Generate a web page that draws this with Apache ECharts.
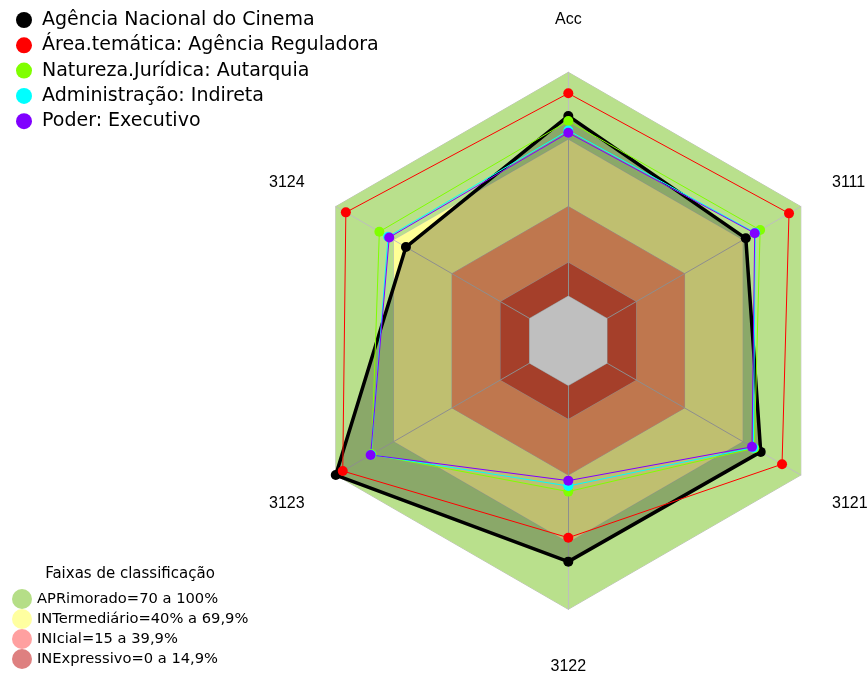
<!DOCTYPE html>
<html>
<head>
<meta charset="utf-8">
<script src="https://cdn.jsdelivr.net/npm/echarts@6/dist/echarts.min.js"></script>
<style>
html, body { margin: 0; padding: 0; background: #fff; }
#container { width: 868px; height: 673px; }
</style>
</head>
<body>
<div id="container"></div>
<script>
// eixos na ordem em que aparecem (anti-horario a partir do topo)
var indicadores = ['Acc', '3124', '3123', '3122', '3121', '3111'];

var nomesSeries = [
    'Agência Nacional do Cinema',
    'Área.temática: Agência Reguladora',
    'Natureza.Jurídica: Autarquia',
    'Administração: Indireta',
    'Poder: Executivo'
];
var coresSeries = ['#000000', '#FF0000', '#80FF00', '#00FFFF', '#8000FF'];

var agencia = [80.5, 63.8, 100, 78.7, 79.3, 71.6];
var areaTematica = [90.6, 94.8, 96.4, 68.0, 90.3, 93.9];
var natureza = [78.2, 77.5, 81.5, 47.4, 76.0, 79.0];
var administracao = [74.0, 73.0, 81.8, 44.9, 75.5, 76.5];
var poder = [73.0, 72.4, 82.0, 42.5, 74.8, 76.2];
var valores = [agencia, areaTematica, natureza, administracao, poder];

// faixas de classificacao
var faixas = ['APRimorado=70 a 100%', 'INTermediário=40% a 69,9%', 'INIcial=15 a 39,9%', 'INExpressivo=0 a 14,9%'];
var limitesFaixas = [100, 70, 40, 15];
var coresFaixas = ['#B9E08C', '#FFFF96', '#FF9F68', '#DD5539'];
var coresLegendaFaixas = ['#B5DE87', '#FFFFA0', '#FFA0A0', '#DE8080'];

var escalaMin = -20, escalaMax = 100;
var limiteBuraco = 0;

var corGrade = '#BEBEBE';

var estiloNome = { top: [0, 0, 9, 0], up: [0, 0, 12, 0], down: [22, 0, 0, 0], bot: [13, 0, 0, 0] };
var posNome = ['top', 'up', 'down', 'bot', 'down', 'up'];
var rich = {};
Object.keys(estiloNome).forEach(function (k) {
    rich[k] = { padding: estiloNome[k], fontSize: 16, fontFamily: 'Liberation Sans', color: '#000' };
});

function constante(v) {
    return indicadores.map(function () { return v; });
}

var series = [];
// faixas (poligonos de fundo)
faixas.forEach(function (f, i) {
    series.push({
        type: 'radar',
        name: f,
        z: 0,
        silent: true,
        symbol: 'none',
        itemStyle: { color: coresLegendaFaixas[i] },
        lineStyle: { color: corGrade, width: 1 },
        areaStyle: { color: coresFaixas[i], opacity: 1 },
        data: [{ value: constante(limitesFaixas[i]) }]
    });
});
// centro vazio
series.push({
    type: 'radar',
    name: 'centro',
    z: 2,
    silent: true,
    symbol: 'none',
    lineStyle: { color: corGrade, width: 1 },
    areaStyle: { color: '#FFFFFF', opacity: 1 },
    data: [{ value: constante(limiteBuraco) }]
});
valores.forEach(function (vals, i) {
    var s = {
        type: 'radar',
        name: nomesSeries[i],
        z: 3,
        symbol: 'circle',
        symbolSize: 10,
        lineStyle: { color: coresSeries[i], width: i === 0 ? 3.5 : 1, join: 'round' },
        itemStyle: { color: coresSeries[i] },
        data: [{ value: vals, name: nomesSeries[i] }]
    };
    if (i === 0) s.areaStyle = { color: 'rgba(0,0,0,0.25)', opacity: 1 };
    series.push(s);
});

var chart = echarts.init(document.getElementById('container'));
chart.setOption({
    animation: false,
    backgroundColor: '#FFFFFF',
    title: {
        text: 'Faixas de classificação',
        left: 130,
        top: 566.5,
        textAlign: 'center',
        padding: 0,
        textStyle: { fontFamily: 'DejaVu Sans', fontSize: 15, fontWeight: 'normal', color: '#000' }
    },
    legend: [{
        data: nomesSeries.map(function (n, i) { return { name: n, itemStyle: { color: coresSeries[i] } }; }),
        orient: 'vertical',
        left: 16,
        top: 10,
        padding: 0,
        icon: 'circle',
        itemWidth: 26,
        itemHeight: 16,
        itemGap: 5.3,
        selectedMode: false,
        textStyle: { fontFamily: 'DejaVu Sans', fontSize: 19, color: '#000', lineHeight: 20 }
    }, {
        data: faixas.map(function (n, i) { return { name: n, itemStyle: { color: coresLegendaFaixas[i] } }; }),
        orient: 'vertical',
        left: 12,
        top: 589,
        padding: 0,
        icon: 'circle',
        itemWidth: 20,
        itemHeight: 20,
        itemGap: 0,
        selectedMode: false,
        textStyle: { fontFamily: 'DejaVu Sans', fontSize: 14.7, color: '#000', lineHeight: 18 }
    }],
    radar: {
        z: 1,
        center: [568.3, 340.8],
        radius: 268.5,
        startAngle: 90,
        shape: 'polygon',
        nameGap: 36,
        indicator: indicadores.map(function (n) { return { name: n, min: escalaMin, max: escalaMax }; }),
        axisName: {
            color: '#000',
            fontSize: 16,
            fontFamily: 'Liberation Sans',
            formatter: function (nome) {
                return '{' + posNome[indicadores.indexOf(nome)] + '|' + nome + '}';
            },
            rich: rich
        },
        axisLine: { lineStyle: { color: corGrade, width: 1 } },
        axisTick: { show: false },
        axisLabel: { show: false },
        splitLine: { show: false },
        splitArea: { show: false }
    },
    series: series
});
</script>
</body>
</html>
